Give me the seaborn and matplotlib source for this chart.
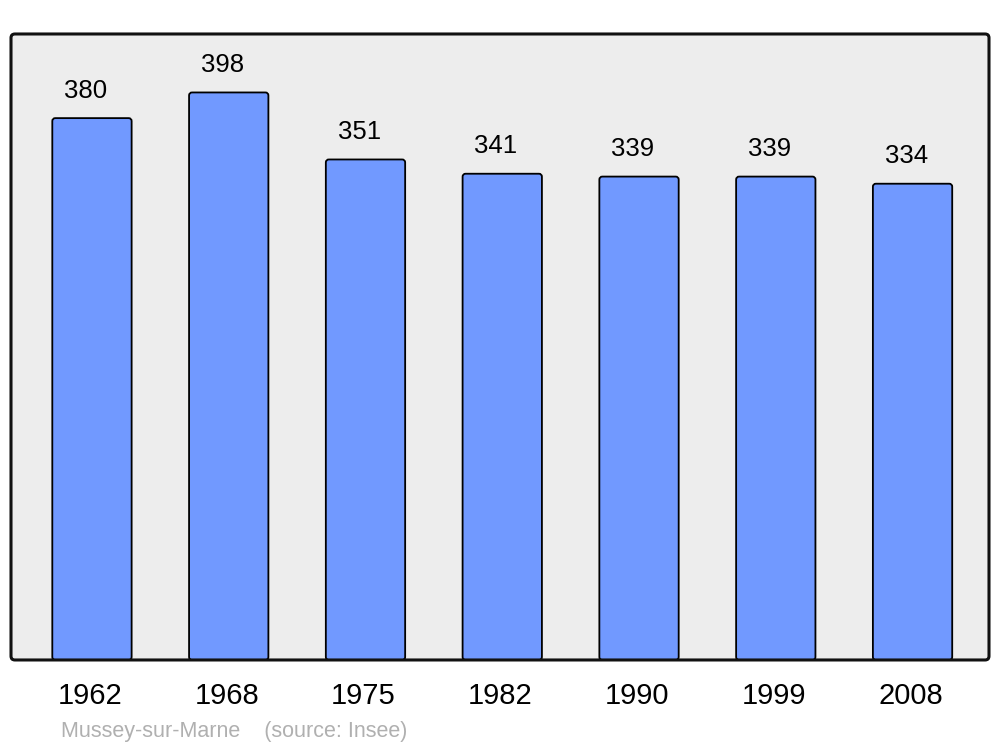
import matplotlib
matplotlib.use('Agg')
import pandas as pd
import matplotlib.pyplot as plt
import matplotlib.transforms as mtransforms
import seaborn as sns
from matplotlib.patches import FancyBboxPatch

years = ["1962", "1968", "1975", "1982", "1990", "1999", "2008"]
population = [380, 398, 351, 341, 339, 339, 334]
town = "Mussey-sur-Marne"
source = "(source: Insee)"

df = pd.DataFrame({"Year": years, "Population": population})

sns.set_style("white")
plt.rcParams['font.family'] = ['Liberation Sans', 'DejaVu Sans']

fig = plt.figure(figsize=(10, 7.47), dpi=100)
ax = fig.add_axes([0.011, 0.1165, 0.978, 0.838])

sns.barplot(data=df, x="Year", y="Population", color="#7199ff", width=0.58,
            saturation=1, edgecolor="black", linewidth=1.3, ax=ax, zorder=2)

ax.set_xlim(-0.592, 6.559)
ax.set_ylim(0, 439)

# swap plain bars for slightly rounded ones
for p in list(ax.patches):
    x0, y0 = p.get_x(), p.get_y()
    w, h = p.get_width(), p.get_height()
    rb = FancyBboxPatch((x0, y0), w, h,
                        boxstyle="round,pad=0,rounding_size=0.022",
                        mutation_aspect=96, facecolor="#7199ff",
                        edgecolor="black", linewidth=1.3, zorder=2)
    p.remove()
    ax.add_patch(rb)

for i, v in enumerate(population):
    ax.annotate(str(v), (i, v), xytext=(-4.5, 11), textcoords="offset points",
                ha="center", va="bottom", fontsize=18.5, color="black")

# background and rounded frame
ax.patch.set_visible(False)
bg = FancyBboxPatch((0, 0), 1, 1, boxstyle="round,pad=0,rounding_size=0.004",
                    mutation_aspect=1.56, transform=ax.transAxes,
                    facecolor="#ededed", edgecolor="none", zorder=0, clip_on=False)
frame = FancyBboxPatch((0, 0), 1, 1, boxstyle="round,pad=0,rounding_size=0.004",
                       mutation_aspect=1.56, transform=ax.transAxes,
                       facecolor="none", edgecolor="#111111", linewidth=2.2,
                       zorder=5, clip_on=False)
ax.add_patch(bg)
ax.add_patch(frame)
for s in ax.spines.values():
    s.set_visible(False)

ax.set_xlabel("")
ax.set_ylabel("")
ax.set_yticks([])
ax.tick_params(axis="x", length=0, pad=16, labelsize=21, labelcolor="black")
shift = mtransforms.ScaledTranslation(-2 / 100, 0, fig.dpi_scale_trans)
for lbl in ax.get_xticklabels():
    lbl.set_transform(lbl.get_transform() + shift)

fig.text(0.061, 0.0134, town + "    " + source, fontsize=15.5, color="#b0b0b0",
         ha="left", va="baseline")

fig.savefig("out.png", dpi=100, facecolor="white")
